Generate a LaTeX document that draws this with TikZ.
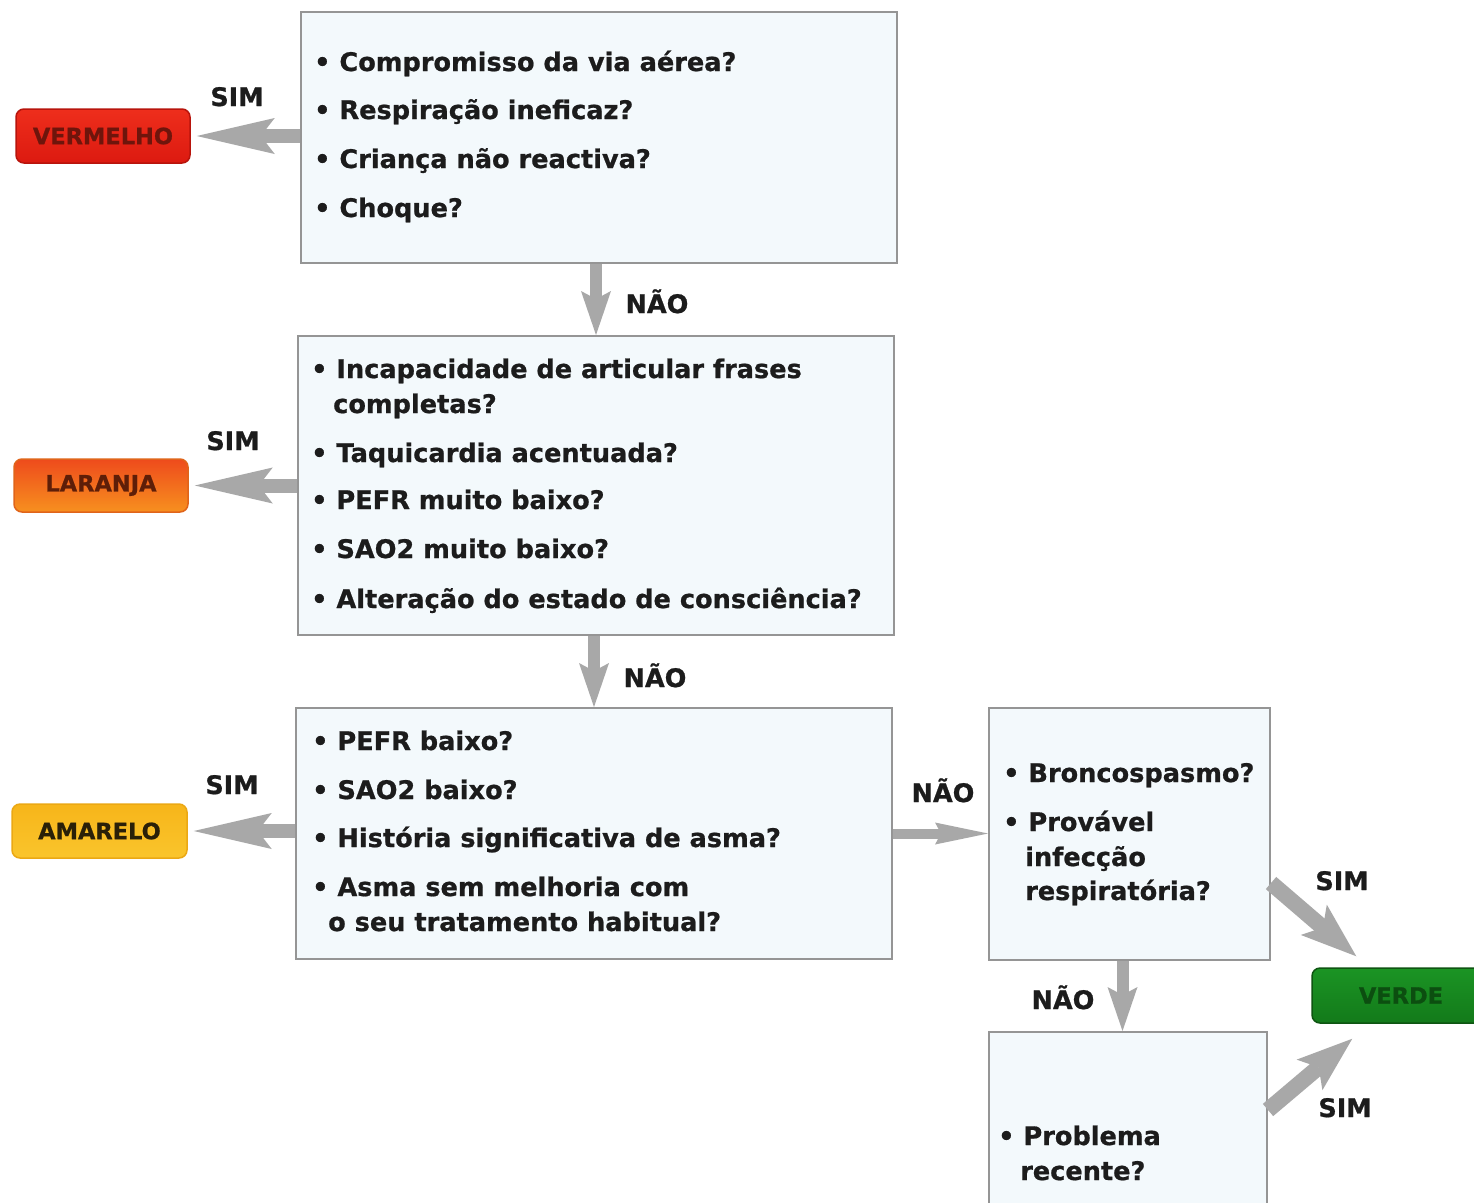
\documentclass[tikz,border=0pt]{standalone}
\usepackage{fontspec}
\setmainfont{DejaVu Sans}[BoldFeatures={FakeBold=0.8}]
\usetikzlibrary{arrows.meta,calc}
\definecolor{boxfill}{HTML}{F3F9FC}
\definecolor{boxline}{HTML}{959595}
\definecolor{arrgray}{HTML}{A8A8A8}
\definecolor{txt}{HTML}{1C1C1C}
\definecolor{redtop}{HTML}{EE2E1C}
\definecolor{redbot}{HTML}{DC1A10}
\definecolor{redline}{HTML}{B8140C}
\definecolor{redtxt}{HTML}{6E150C}
\definecolor{ortop}{HTML}{EE4B1C}
\definecolor{orbot}{HTML}{F7901F}
\definecolor{orline}{HTML}{E0641A}
\definecolor{ortxt}{HTML}{5E1E08}
\definecolor{yetop}{HTML}{F7B51A}
\definecolor{yebot}{HTML}{FAC52C}
\definecolor{yeline}{HTML}{EBA814}
\definecolor{yetxt}{HTML}{2A2008}
\definecolor{grtop}{HTML}{1B9424}
\definecolor{grbot}{HTML}{137A1A}
\definecolor{grline}{HTML}{0E5512}
\definecolor{grtxt}{HTML}{0C4E10}
\begin{document}
\begin{tikzpicture}[x=1pt,y=-1pt,
  qbox/.style={draw=boxline, line width=2pt, fill=boxfill, rectangle, inner sep=0pt},
  item/.style={anchor=base west, inner sep=0pt, font=\bfseries\fontsize{25.6}{30}\selectfont, text=txt},
  lbl/.style={anchor=base, inner sep=0pt, font=\bfseries\fontsize{25.5}{30}\selectfont, text=txt},
  tag/.style={rounded corners=8pt, inner sep=0pt, line width=1.5pt, font=\bfseries\fontsize{22.5}{25}\selectfont},
  harrow/.style={draw=arrgray, line width=14pt, shorten >=6pt, -{Stealth[length=78pt,width=36pt,inset=14pt,line width=0pt]}},
  varrow/.style={draw=arrgray, line width=12pt, -{Stealth[length=44pt,width=30pt,inset=8pt,line width=0pt]}},
  rarrow/.style={draw=arrgray, line width=10pt, -{Stealth[length=53pt,width=22pt,inset=6pt,line width=0pt]}},
  darrow/.style={draw=arrgray, line width=16pt, -{Stealth[length=56pt,width=40pt,inset=12pt,line width=0pt]}}
]
\useasboundingbox (0,0) rectangle (1474,1202);
\fill[white] (0,0) rectangle (1474,1202);

% question boxes
\node[qbox, minimum width=596pt, minimum height=251pt] (box1) at (599,137.5) {};
\node[qbox, minimum width=596pt, minimum height=299pt] (box2) at (596,485.5) {};
\node[qbox, minimum width=596pt, minimum height=251pt] (box3) at (594,833.5) {};
\node[qbox, minimum width=281pt, minimum height=252pt] (box4) at (1129.5,834) {};
\node[qbox, minimum width=278pt, minimum height=190pt] (box5) at (1128,1127) {};

% colour tags
\node[tag, draw=redline, top color=redtop, bottom color=redbot, text=redtxt, minimum width=174pt, minimum height=54pt] (verm) at (103,136) {VERMELHO};
\node[tag, draw=orline, top color=ortop, bottom color=orbot, text=ortxt, minimum width=174pt, minimum height=53pt] (lar) at (101,485.5) {LARANJA};
\node[tag, draw=yeline, top color=yetop, bottom color=yebot, text=yetxt, minimum width=175pt, minimum height=54pt] (ama) at (99.5,831) {AMARELO};
\node[tag, draw=grline, top color=grtop, bottom color=grbot, text=grtxt, minimum width=178pt, minimum height=55pt] (verde) at (1401,995.5) {VERDE};

% box 1 text
\node[item] (t11) at (314,71) {\textbullet\ Compromisso da via aérea?};
\node[item] (t12) at (314,119) {\textbullet\ Respiração ineficaz?};
\node[item] (t13) at (314,168) {\textbullet\ Criança não reactiva?};
\node[item] (t14) at (314,217) {\textbullet\ Choque?};

% box 2 text
\node[item] (t21) at (311,378) {\textbullet\ Incapacidade de articular frases};
\node[item] (t21b) at (333,413) {completas?};
\node[item] (t22) at (311,462) {\textbullet\ Taquicardia acentuada?};
\node[item] (t23) at (311,509) {\textbullet\ PEFR muito baixo?};
\node[item] (t24) at (311,558) {\textbullet\ SAO2 muito baixo?};
\node[item] (t25) at (311,608) {\textbullet\ Alteração do estado de consciência?};

% box 3 text
\node[item] (t31) at (312,750) {\textbullet\ PEFR baixo?};
\node[item] (t32) at (312,799) {\textbullet\ SAO2 baixo?};
\node[item] (t33) at (312,847) {\textbullet\ História significativa de asma?};
\node[item] (t34) at (312,896) {\textbullet\ Asma sem melhoria com};
\node[item] (t34b) at (328,931) {o seu tratamento habitual?};

% box 4 text
\node[item] (t41) at (1003,782) {\textbullet\ Broncospasmo?};
\node[item] (t42) at (1003,831) {\textbullet\ Provável};
\node[item] (t42b) at (1025,866) {infecção};
\node[item] (t42c) at (1025,900) {respiratória?};

% box 5 text
\node[item] (t51) at (998,1145) {\textbullet\ Problema};
\node[item] (t51b) at (1020,1180) {recente?};

% arrows
\draw[harrow] (box1.west |- verm.east) -- (verm.east);
\draw[harrow] (box2.west |- lar.east) -- (lar.east);
\draw[harrow] (box3.west |- ama.east) -- (ama.east);
\draw[varrow] (box1.south -| box2.north) -- (box2.north);
\draw[varrow] (box2.south -| box3.north) -- (box3.north);
\draw[rarrow] (box3.east) -- (box4.west |- box3.east);
\draw[varrow] ([xshift=-7pt]box4.south) -- ([xshift=-7pt]box4.south |- box5.north);
\draw[darrow] (box4.east |- 0,883) -- ([xshift=45pt,yshift=11pt]verde.north west);
\draw[darrow] (box5.east |- 0,1110) -- ([xshift=41pt,yshift=-15pt]verde.south west);

% labels
\node[lbl] (s1) at (237,106) {SIM};
\node[lbl] (s2) at (233,450) {SIM};
\node[lbl] (s3) at (232,794) {SIM};
\node[lbl] (n1) at (657,313) {NÃO};
\node[lbl] (n2) at (655,687) {NÃO};
\node[lbl] (n3) at (943,802) {NÃO};
\node[lbl] (n4) at (1063,1009) {NÃO};
\node[lbl] (s4) at (1342,890) {SIM};
\node[lbl] (s5) at (1345,1117) {SIM};
\end{tikzpicture}
\end{document}
